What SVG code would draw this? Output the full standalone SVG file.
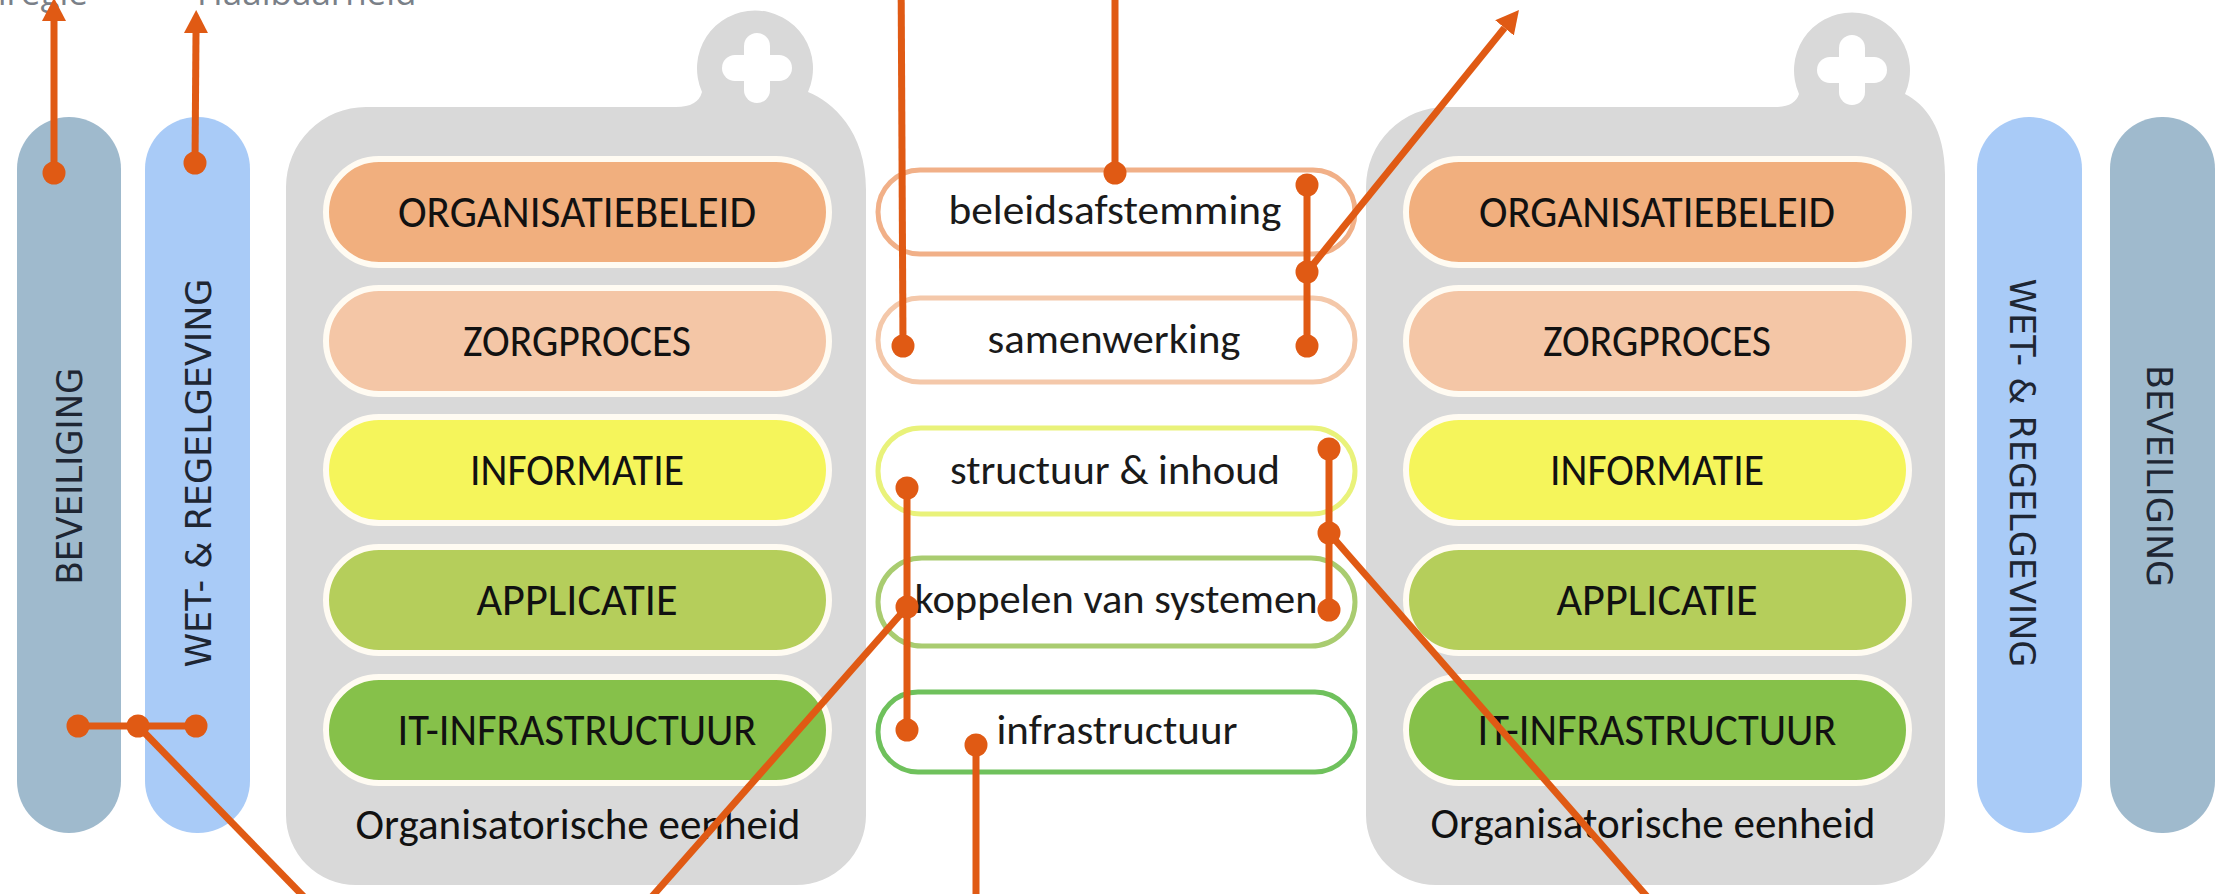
<svg xmlns="http://www.w3.org/2000/svg" width="2230" height="894" viewBox="0 0 2230 894">
<defs>
<style>
.cont{fill:#D9D9D9}
.plus{fill:#FFFFFF}
.bar{stroke:#FFFBF2;stroke-width:6}
.bt{font-family:Carlito,"Liberation Sans Narrow","Open Sans",sans-serif;font-size:45px;fill:#111111;text-anchor:middle}
.mt{font-family:Carlito,"Liberation Sans Narrow","Open Sans",sans-serif;font-size:41px;fill:#1A1A1A;text-anchor:middle}
.ot{font-family:Carlito,"Liberation Sans Narrow","Open Sans",sans-serif;font-size:43px;fill:#111111;text-anchor:middle}
.pt{font-family:"DejaVu Sans",Verdana,sans-serif;font-size:36px;fill:#1E2633;text-anchor:middle}
.mid{fill:#FFFFFF;stroke-width:5}
.top{font-family:"Open Sans","Noto Sans",sans-serif;font-size:35px;fill:#7A8088}
.cn{stroke:#E05A14;stroke-width:7;fill:none}
.dot{fill:#E05A14}
</style>
<marker id="ah" markerUnits="userSpaceOnUse" markerWidth="24" markerHeight="24" viewBox="0 0 24 24" refX="0" refY="12" orient="auto">
<path d="M0,0 L23,12 L0,24 Z" fill="#E05A14"/>
</marker>
</defs>
<rect width="2230" height="894" fill="#FFFFFF"/>

<g id="labels-top">
<text class="top" x="88" y="5" text-anchor="end">Ketenregie</text>
<text class="top" x="197" y="5">Haalbaarheid</text>
</g>

<g id="beveiliging-left">
<rect x="17" y="117" width="104" height="716" rx="52" fill="#9FBACD"/>
<text class="pt" transform="translate(69,476) rotate(-90)" y="13" textLength="217" lengthAdjust="spacingAndGlyphs">BEVEILIGING</text>
</g>
<g id="wet-left">
<rect x="145" y="117" width="105" height="716" rx="52" fill="#A9CBF7"/>
<text class="pt" transform="translate(198,473) rotate(-90)" y="13" textLength="389" lengthAdjust="spacingAndGlyphs">WET- &amp; REGELGEVING</text>
</g>

<g id="eenheid-left">
<path class="cont" d="M286,187 A80,80 0 0 1 366,107 L676,107 Q698,107 702,92 A58,58 0 1 1 808,92 C832,102 866,130 866,190 L866,815 A70,70 0 0 1 796,885 L356,885 A70,70 0 0 1 286,815 Z"/>
<rect class="plus" x="722" y="55" width="70" height="26" rx="13"/>
<rect class="plus" x="744" y="33" width="26" height="70" rx="13"/>
<text class="ot" x="578" y="839" textLength="445" lengthAdjust="spacingAndGlyphs">Organisatorische eenheid</text>
</g>
<g id="organisatiebeleid-left">
<rect class="bar" x="326" y="159" width="503" height="106" rx="53" fill="#F1AF7E"/>
<text class="bt" x="577" y="227" textLength="358" lengthAdjust="spacingAndGlyphs">ORGANISATIEBELEID</text>
</g>
<g id="zorgproces-left">
<rect class="bar" x="326" y="288" width="503" height="106" rx="53" fill="#F4C6A6"/>
<text class="bt" x="577" y="356" textLength="228" lengthAdjust="spacingAndGlyphs">ZORGPROCES</text>
</g>
<g id="informatie-left">
<rect class="bar" x="326" y="417" width="503" height="106" rx="53" fill="#F5F55B"/>
<text class="bt" x="577" y="485" textLength="214" lengthAdjust="spacingAndGlyphs">INFORMATIE</text>
</g>
<g id="applicatie-left">
<rect class="bar" x="326" y="547" width="503" height="106" rx="53" fill="#B5CE5B"/>
<text class="bt" x="577" y="615" textLength="201" lengthAdjust="spacingAndGlyphs">APPLICATIE</text>
</g>
<g id="it-left">
<rect class="bar" x="326" y="677" width="503" height="106" rx="53" fill="#86C14A"/>
<text class="bt" x="577" y="745" textLength="359" lengthAdjust="spacingAndGlyphs">IT-INFRASTRUCTUUR</text>
</g>

<g id="beleidsafstemming">
<rect class="mid" x="878" y="170" width="477" height="84" rx="42" stroke="#F1B088"/>
<text class="mt" x="1115" y="224" textLength="333" lengthAdjust="spacingAndGlyphs">beleidsafstemming</text>
</g>
<g id="samenwerking">
<rect class="mid" x="878" y="298" width="477" height="84" rx="42" stroke="#F4C8AA"/>
<text class="mt" x="1114" y="353" textLength="253" lengthAdjust="spacingAndGlyphs">samenwerking</text>
</g>
<g id="structuur">
<rect class="mid" x="878" y="428" width="477" height="86" rx="43" stroke="#E9F27A"/>
<text class="mt" x="1115" y="484" textLength="330" lengthAdjust="spacingAndGlyphs">structuur &amp; inhoud</text>
</g>
<g id="koppelen">
<rect class="mid" x="878" y="558" width="477" height="88" rx="44" stroke="#A9CC70"/>
<text class="mt" x="1116" y="613" textLength="403" lengthAdjust="spacingAndGlyphs">koppelen van systemen</text>
</g>
<g id="infrastructuur">
<rect class="mid" x="878" y="692" width="477" height="80" rx="40" stroke="#6FC15C"/>
<text class="mt" x="1117" y="744" textLength="241" lengthAdjust="spacingAndGlyphs">infrastructuur</text>
</g>

<g id="eenheid-right">
<path class="cont" d="M1366,187 A80,80 0 0 1 1446,107 L1775,107 Q1795,107 1799,94 A58,58 0 1 1 1905,94 C1925,104 1945,128 1945,175 L1945,815 A70,70 0 0 1 1875,885 L1436,885 A70,70 0 0 1 1366,815 Z"/>
<rect class="plus" x="1817" y="57" width="70" height="26" rx="13"/>
<rect class="plus" x="1839" y="35" width="26" height="70" rx="13"/>
<text class="ot" x="1653" y="838" textLength="445" lengthAdjust="spacingAndGlyphs">Organisatorische eenheid</text>
</g>
<g id="organisatiebeleid-right">
<rect class="bar" x="1406" y="159" width="503" height="106" rx="53" fill="#F1AF7E"/>
<text class="bt" x="1657" y="227" textLength="356" lengthAdjust="spacingAndGlyphs">ORGANISATIEBELEID</text>
</g>
<g id="zorgproces-right">
<rect class="bar" x="1406" y="288" width="503" height="106" rx="53" fill="#F4C6A6"/>
<text class="bt" x="1657" y="356" textLength="228" lengthAdjust="spacingAndGlyphs">ZORGPROCES</text>
</g>
<g id="informatie-right">
<rect class="bar" x="1406" y="417" width="503" height="106" rx="53" fill="#F5F55B"/>
<text class="bt" x="1657" y="485" textLength="214" lengthAdjust="spacingAndGlyphs">INFORMATIE</text>
</g>
<g id="applicatie-right">
<rect class="bar" x="1406" y="547" width="503" height="106" rx="53" fill="#B5CE5B"/>
<text class="bt" x="1657" y="615" textLength="201" lengthAdjust="spacingAndGlyphs">APPLICATIE</text>
</g>
<g id="it-right">
<rect class="bar" x="1406" y="677" width="503" height="106" rx="53" fill="#86C14A"/>
<text class="bt" x="1657" y="745" textLength="359" lengthAdjust="spacingAndGlyphs">IT-INFRASTRUCTUUR</text>
</g>

<g id="wet-right">
<rect x="1977" y="117" width="105" height="716" rx="52" fill="#A9CBF7"/>
<text class="pt" transform="translate(2023,473) rotate(90)" y="13" textLength="389" lengthAdjust="spacingAndGlyphs">WET- &amp; REGELGEVING</text>
</g>
<g id="beveiliging-right">
<rect x="2110" y="117" width="105" height="716" rx="52" fill="#9FBACD"/>
<text class="pt" transform="translate(2160,476) rotate(90)" y="13" textLength="222" lengthAdjust="spacingAndGlyphs">BEVEILIGING</text>
</g>

<g id="connectors">
<line class="cn" x1="54" y1="173" x2="54" y2="21" marker-end="url(#ah)"/>
<circle class="dot" cx="54" cy="173" r="11.5"/>
<line class="cn" x1="195" y1="163" x2="196" y2="33" marker-end="url(#ah)"/>
<circle class="dot" cx="195" cy="163" r="11.5"/>

<line class="cn" x1="901" y1="-40" x2="903" y2="346"/>
<circle class="dot" cx="903" cy="346" r="11.5"/>

<line class="cn" x1="1115" y1="173" x2="1115" y2="-1" marker-end="url(#ah)"/>
<circle class="dot" cx="1115" cy="173" r="11.5"/>

<line class="cn" x1="1307" y1="185" x2="1307" y2="346"/>
<line class="cn" x1="1307" y1="272" x2="1504.5" y2="27.9" marker-end="url(#ah)"/>
<circle class="dot" cx="1307" cy="185" r="11.5"/>
<circle class="dot" cx="1307" cy="272" r="11.5"/>
<circle class="dot" cx="1307" cy="346" r="11.5"/>

<line class="cn" x1="1329" y1="449" x2="1329" y2="610"/>
<line class="cn" x1="1329" y1="533" x2="1650" y2="900"/>
<circle class="dot" cx="1329" cy="449" r="11.5"/>
<circle class="dot" cx="1329" cy="533" r="11.5"/>
<circle class="dot" cx="1329" cy="610" r="11.5"/>

<line class="cn" x1="907" y1="488" x2="907" y2="730"/>
<line class="cn" x1="907" y1="607" x2="649" y2="900"/>
<circle class="dot" cx="907" cy="488" r="11.5"/>
<circle class="dot" cx="907" cy="607" r="11.5"/>
<circle class="dot" cx="907" cy="730" r="11.5"/>

<line class="cn" x1="976" y1="745" x2="976" y2="900"/>
<circle class="dot" cx="976" cy="745" r="11.5"/>

<line class="cn" x1="78" y1="726" x2="196" y2="726"/>
<line class="cn" x1="138" y1="726" x2="307" y2="900"/>
<circle class="dot" cx="78" cy="726" r="11.5"/>
<circle class="dot" cx="138" cy="726" r="11.5"/>
<circle class="dot" cx="196" cy="726" r="11.5"/>
</g>
</svg>
